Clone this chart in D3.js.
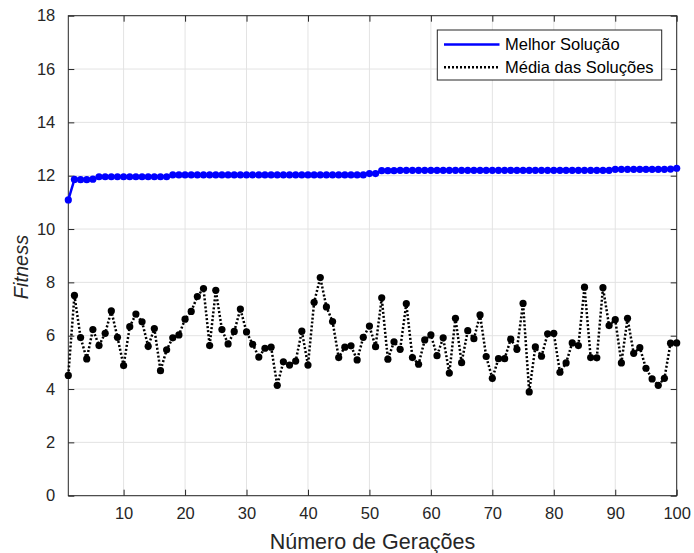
<!DOCTYPE html>
<html>
<head>
<meta charset="utf-8">
<script src="https://cdn.jsdelivr.net/npm/d3@7"></script>
<style>
  html, body { margin: 0; padding: 0; background: #fff; }
  svg { display: block; font-family: Arial, "Liberation Sans", Helvetica, sans-serif; }
</style>
</head>
<body>
<svg id="chart" width="694" height="553"></svg>
<script>
// Generation numbers 1..100
const generations = d3.range(1, 101);

// Best fitness found at each generation
const bestFitness = [
  11.09, 11.86, 11.85, 11.85, 11.87, 11.96, 11.96, 11.96, 11.96, 11.96,
  11.96, 11.96, 11.96, 11.96, 11.96, 11.96, 11.96, 12.03, 12.03, 12.03,
  12.03, 12.03, 12.03, 12.03, 12.03, 12.03, 12.03, 12.03, 12.03, 12.03,
  12.03, 12.03, 12.03, 12.03, 12.03, 12.03, 12.03, 12.03, 12.03, 12.03,
  12.03, 12.03, 12.03, 12.03, 12.03, 12.03, 12.03, 12.03, 12.03, 12.08,
  12.08, 12.19, 12.19, 12.19, 12.2, 12.2, 12.2, 12.2, 12.2, 12.2,
  12.2, 12.2, 12.2, 12.2, 12.2, 12.2, 12.2, 12.2, 12.2, 12.2,
  12.2, 12.2, 12.2, 12.2, 12.2, 12.2, 12.2, 12.2, 12.2, 12.2,
  12.2, 12.2, 12.2, 12.2, 12.2, 12.2, 12.2, 12.2, 12.2, 12.24,
  12.24, 12.24, 12.24, 12.24, 12.24, 12.24, 12.24, 12.24, 12.25, 12.28
];

// Mean fitness of the population at each generation
const meanFitness = [
  4.51, 7.51, 5.93, 5.13, 6.23, 5.63, 6.09, 6.93, 5.94, 4.88,
  6.34, 6.81, 6.52, 5.60, 6.27, 4.69, 5.47, 5.92, 6.03, 6.62,
  6.91, 7.47, 7.77, 5.63, 7.70, 6.23, 5.69, 6.16, 7.00, 6.14,
  5.68, 5.20, 5.53, 5.57, 4.14, 5.02, 4.90, 5.05, 6.17, 4.90,
  7.25, 8.18, 7.08, 6.53, 5.18, 5.57, 5.62, 5.09, 5.94, 6.36,
  5.59, 7.42, 5.12, 5.77, 5.49, 7.20, 5.18, 4.93, 5.84, 6.03,
  5.25, 5.92, 4.60, 6.65, 4.99, 6.19, 5.89, 6.78, 5.22, 4.40,
  5.14, 5.14, 5.87, 5.49, 7.21, 3.89, 5.58, 5.23, 6.07, 6.09,
  4.63, 4.98, 5.73, 5.63, 7.82, 5.18, 5.17, 7.80, 6.38, 6.60,
  4.98, 6.65, 5.34, 5.55, 4.78, 4.38, 4.14, 4.40, 5.72, 5.73
];

const xTicks = [10, 20, 30, 40, 50, 60, 70, 80, 90, 100];
const yTicks = [0, 2, 4, 6, 8, 10, 12, 14, 16, 18];
const seriesNames = ["Melhor Solução", "Média das Soluções"];

const svg = d3.select("#chart");
const W = 694, H = 553;
const innerL = 68.3, innerR = 676.7;
const innerT = 15.7, innerB = 495.7;

const x = d3.scaleLinear().domain([1, 100]).range([innerL, innerR]);
const y = d3.scaleLinear().domain([0, 18]).range([innerB, innerT]);

const axisColor = "#262626";
const gridColor = "#e3e3e3";
const tickLen = 6;

// Grid lines
const grid = svg.append("g");
grid.selectAll("line.gx").data(xTicks).join("line")
  .attr("x1", d => x(d)).attr("x2", d => x(d))
  .attr("y1", innerT).attr("y2", innerB)
  .attr("stroke", gridColor).attr("stroke-width", 1);
grid.selectAll("line.gy").data(yTicks).join("line")
  .attr("x1", innerL).attr("x2", innerR)
  .attr("y1", d => y(d)).attr("y2", d => y(d))
  .attr("stroke", gridColor).attr("stroke-width", 1);

// Axes (ticks point inward on all four sides)
const fontSize = "16.5px";
function styleAxis(g) {
  g.select(".domain").remove();
  g.selectAll(".tick line").attr("stroke", axisColor).attr("stroke-width", 1);
  g.selectAll(".tick text").attr("fill", axisColor).style("font-size", fontSize)
    .style("font-family", "Arial, 'Liberation Sans', sans-serif");
}

svg.append("g").attr("transform", `translate(0,${innerB})`)
  .call(d3.axisBottom(x).tickValues(xTicks).tickSize(-tickLen).tickPadding(12))
  .call(styleAxis);
svg.append("g").attr("transform", `translate(0,${innerT})`)
  .call(d3.axisTop(x).tickValues(xTicks).tickSize(-tickLen).tickFormat(""))
  .call(styleAxis);
svg.append("g").attr("transform", `translate(${innerL},0)`)
  .call(d3.axisLeft(y).tickValues(yTicks).tickSize(-tickLen).tickPadding(13))
  .call(styleAxis);
svg.append("g").attr("transform", `translate(${innerR},0)`)
  .call(d3.axisRight(y).tickValues(yTicks).tickSize(-tickLen).tickFormat(""))
  .call(styleAxis);

// Box
svg.append("rect")
  .attr("x", innerL).attr("y", innerT)
  .attr("width", innerR - innerL).attr("height", innerB - innerT)
  .attr("fill", "none").attr("stroke", axisColor).attr("stroke-width", 1);

// Series
const line = d3.line().x((d, i) => x(generations[i])).y(d => y(d));

const meanG = svg.append("g");
meanG.append("path").datum(meanFitness)
  .attr("d", line).attr("fill", "none")
  .attr("stroke", "#000").attr("stroke-width", 2.5)
  .attr("stroke-dasharray", "2,2");
meanG.selectAll("circle").data(meanFitness).join("circle")
  .attr("cx", (d, i) => x(generations[i])).attr("cy", d => y(d))
  .attr("r", 3.6).attr("fill", "#000");

const bestG = svg.append("g");
bestG.append("path").datum(bestFitness)
  .attr("d", line).attr("fill", "none")
  .attr("stroke", "#0000ff").attr("stroke-width", 2.5);
bestG.selectAll("circle").data(bestFitness).join("circle")
  .attr("cx", (d, i) => x(generations[i])).attr("cy", d => y(d))
  .attr("r", 3.6).attr("fill", "#0000ff");

// Axis titles
svg.append("text")
  .attr("x", (innerL + innerR) / 2).attr("y", 549)
  .attr("text-anchor", "middle").attr("fill", axisColor)
  .style("font-size", "21.5px")
  .text("Número de Gerações");
svg.append("text")
  .attr("transform", `translate(28,267) rotate(-90)`)
  .attr("text-anchor", "middle").attr("fill", axisColor)
  .style("font-size", "20px").style("font-style", "italic")
  .text("Fitness");

// Legend
const lg = svg.append("g");
lg.append("rect")
  .attr("x", 437.3).attr("y", 30).attr("width", 224.4).attr("height", 50)
  .attr("fill", "#fff").attr("stroke", axisColor).attr("stroke-width", 1);
const legendRows = [
  { name: seriesNames[0], color: "#0000ff", dash: null, y: 44.5 },
  { name: seriesNames[1], color: "#000", dash: "2,2", y: 67.3 }
];
legendRows.forEach(r => {
  lg.append("line")
    .attr("x1", 444).attr("x2", 499.5).attr("y1", r.y).attr("y2", r.y)
    .attr("stroke", r.color).attr("stroke-width", 2.5)
    .attr("stroke-dasharray", r.dash);
  lg.append("text")
    .attr("x", 505).attr("y", r.y).attr("dy", "0.35em")
    .attr("fill", "#000").style("font-size", "16.5px")
    .text(r.name);
});
</script>
</body>
</html>
